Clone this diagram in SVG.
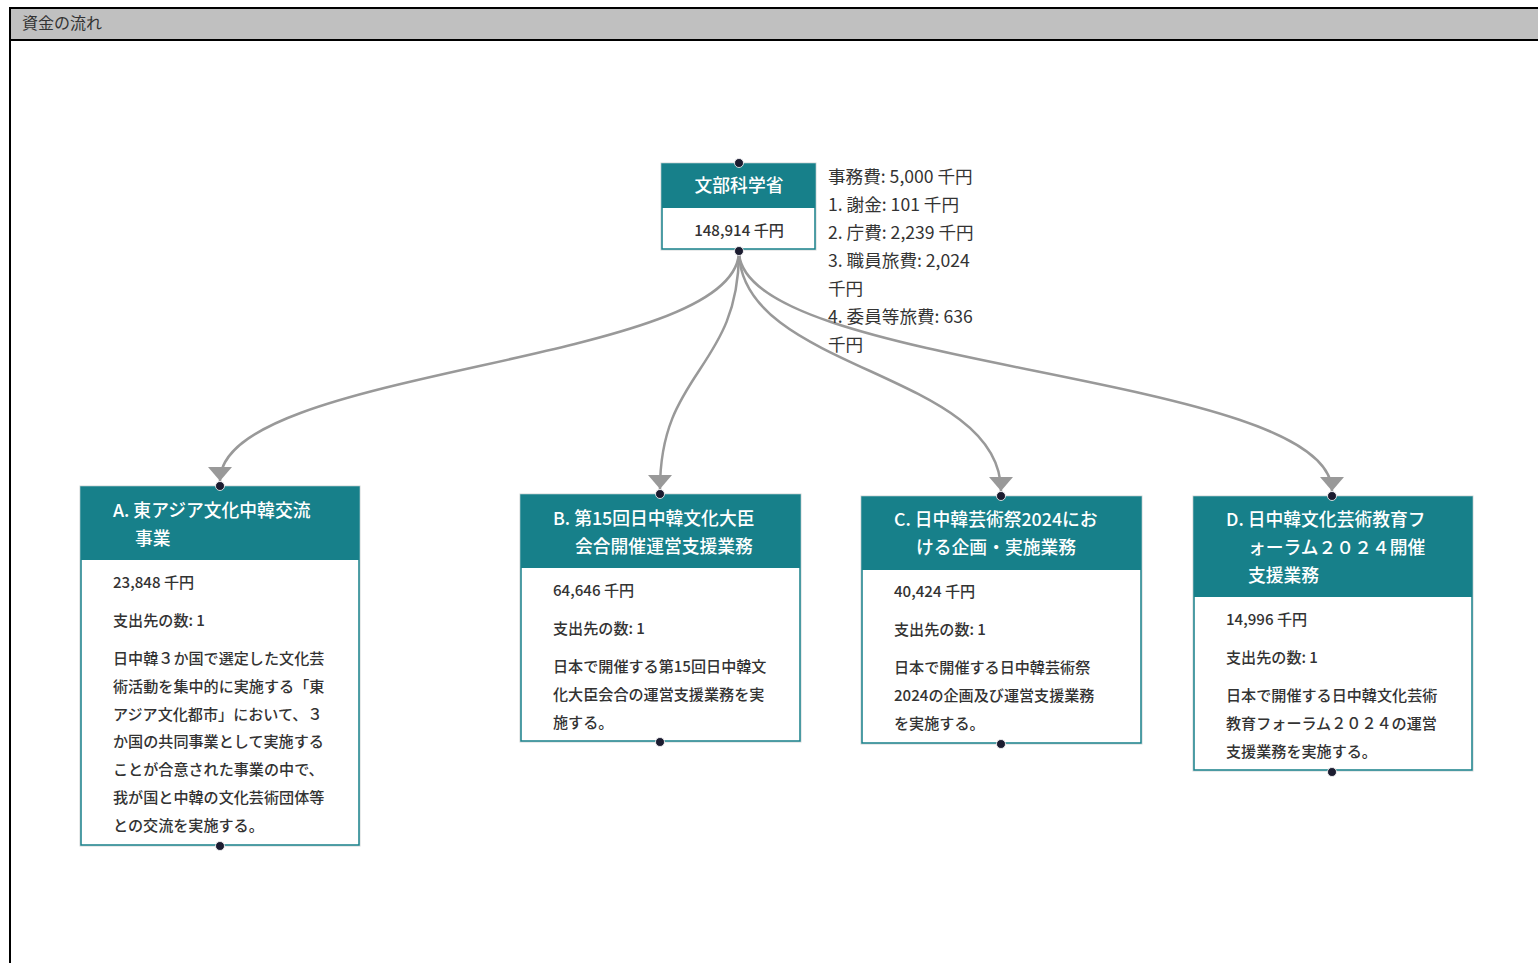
<svg xmlns="http://www.w3.org/2000/svg" width="1538" height="963" viewBox="0 0 1538 963">
<style>
text{font-family:"Noto Sans CJK JP","Noto Sans",sans-serif;}
.hd{fill:#17808a;}
.box{fill:#fff;stroke:#17808a;stroke-width:1.5;}
.out{fill:none;stroke:#d2d6d6;stroke-width:1;}
.tt{fill:#fff;font-size:17.8px;font-weight:500;}
.bt{fill:#333;font-size:15.1px;font-weight:500;}
.side{fill:#333;font-size:17.6px;}
.link{fill:none;stroke:#999;stroke-width:2.5;marker-end:url(#arr);}
.dot{fill:#1c1c30;stroke:#fff;stroke-width:0.8;}
</style>
<defs>
<marker id="arr" viewBox="0 0 14 24" markerWidth="14" markerHeight="24" refX="14" refY="12" orient="auto" markerUnits="userSpaceOnUse">
<path d="M0,0 L14,12 L0,24 z" fill="#999"/>
</marker>
</defs>
<rect x="0" y="0" width="1538" height="963" fill="#fff"/>
<g id="frame">
<rect x="10" y="9" width="1528" height="31" fill="#c0c0c0"/>
<line x1="9" y1="8" x2="1538" y2="8" stroke="#000" stroke-width="2"/>
<line x1="9" y1="40" x2="1538" y2="40" stroke="#000" stroke-width="2"/>
<line x1="10" y1="7" x2="10" y2="963" stroke="#000" stroke-width="2"/>
<text x="22" y="29" style="font-size:16px;fill:#333;">資金の流れ</text>
</g>
<g id="connectors">
<path class="link" d="M739,251 C739,366 220,366 220,481"/>
<path class="link" d="M739,251 C739,370 660,370 660,489"/>
<path class="link" d="M739,251 C739,371 1001,371 1001,491"/>
<path class="link" d="M739,251 C739,371 1332,371 1332,491"/>
</g>
<g id="root">
<rect class="out" x="661" y="163" width="155" height="87"/>
<rect class="box" x="662" y="164" width="153" height="85"/>
<rect class="hd" x="662" y="164" width="153" height="44"/>
<text class="tt" x="739" y="192" text-anchor="middle">文部科学省</text>
<text class="bt" x="739" y="236" text-anchor="middle">148,914 千円</text>
<circle class="dot" cx="739" cy="163" r="4.5"/>
<circle class="dot" cx="739" cy="251" r="4.5"/>
</g>
<g id="root-label">
<text class="side" x="828" y="183">事務費: 5,000 千円</text>
<text class="side" x="828" y="211">1. 謝金: 101 千円</text>
<text class="side" x="828" y="239">2. 庁費: 2,239 千円</text>
<text class="side" x="828" y="267">3. 職員旅費: 2,024</text>
<text class="side" x="828" y="295">千円</text>
<text class="side" x="828" y="323">4. 委員等旅費: 636</text>
<text class="side" x="828" y="351">千円</text>
</g>
<g id="nodeA">
<rect class="out" x="80" y="486" width="280" height="360"/>
<rect class="box" x="81" y="487" width="278" height="358"/>
<rect class="hd" x="81" y="487" width="278" height="73"/>
<text class="tt" x="113" y="517">A. 東アジア文化中韓交流</text>
<text class="tt" x="135" y="545">事業</text>
<text class="bt" x="113" y="588">23,848 千円</text>
<text class="bt" x="113" y="626">支出先の数: 1</text>
<text class="bt" x="113" y="664">日中韓３か国で選定した文化芸</text>
<text class="bt" x="113" y="692">術活動を集中的に実施する「東</text>
<text class="bt" x="113" y="720">アジア文化都市」において、３</text>
<text class="bt" x="113" y="747">か国の共同事業として実施する</text>
<text class="bt" x="113" y="775">ことが合意された事業の中で、</text>
<text class="bt" x="113" y="803">我が国と中韓の文化芸術団体等</text>
<text class="bt" x="113" y="831">との交流を実施する。</text>
<circle class="dot" cx="220" cy="486" r="4.5"/>
<circle class="dot" cx="220" cy="846" r="4.5"/>
</g>
<g id="nodeB">
<rect class="out" x="520" y="494" width="281" height="248"/>
<rect class="box" x="521" y="495" width="279" height="246"/>
<rect class="hd" x="521" y="495" width="279" height="73"/>
<text class="tt" x="553" y="525">B. 第15回日中韓文化大臣</text>
<text class="tt" x="575" y="553">会合開催運営支援業務</text>
<text class="bt" x="553" y="596">64,646 千円</text>
<text class="bt" x="553" y="634">支出先の数: 1</text>
<text class="bt" x="553" y="672">日本で開催する第15回日中韓文</text>
<text class="bt" x="553" y="700">化大臣会合の運営支援業務を実</text>
<text class="bt" x="553" y="728">施する。</text>
<circle class="dot" cx="660" cy="494" r="4.5"/>
<circle class="dot" cx="660" cy="742" r="4.5"/>
</g>
<g id="nodeC">
<rect class="out" x="861" y="496" width="281" height="248"/>
<rect class="box" x="862" y="497" width="279" height="246"/>
<rect class="hd" x="862" y="497" width="279" height="73"/>
<text class="tt" x="894" y="526">C. 日中韓芸術祭2024にお</text>
<text class="tt" x="916" y="554">ける企画・実施業務</text>
<text class="bt" x="894" y="597">40,424 千円</text>
<text class="bt" x="894" y="635">支出先の数: 1</text>
<text class="bt" x="894" y="673">日本で開催する日中韓芸術祭</text>
<text class="bt" x="894" y="701">2024の企画及び運営支援業務</text>
<text class="bt" x="894" y="729">を実施する。</text>
<circle class="dot" cx="1001" cy="496" r="4.5"/>
<circle class="dot" cx="1001" cy="744" r="4.5"/>
</g>
<g id="nodeD">
<rect class="out" x="1193" y="496" width="280" height="275"/>
<rect class="box" x="1194" y="497" width="278" height="273"/>
<rect class="hd" x="1194" y="497" width="278" height="100"/>
<text class="tt" x="1226" y="526">D. 日中韓文化芸術教育フ</text>
<text class="tt" x="1248" y="554">ォーラム２０２４開催</text>
<text class="tt" x="1248" y="582">支援業務</text>
<text class="bt" x="1226" y="625">14,996 千円</text>
<text class="bt" x="1226" y="663">支出先の数: 1</text>
<text class="bt" x="1226" y="701">日本で開催する日中韓文化芸術</text>
<text class="bt" x="1226" y="729">教育フォーラム２０２４の運営</text>
<text class="bt" x="1226" y="757">支援業務を実施する。</text>
<circle class="dot" cx="1332" cy="496" r="4.5"/>
<circle class="dot" cx="1332" cy="772" r="4.5"/>
</g>
</svg>
